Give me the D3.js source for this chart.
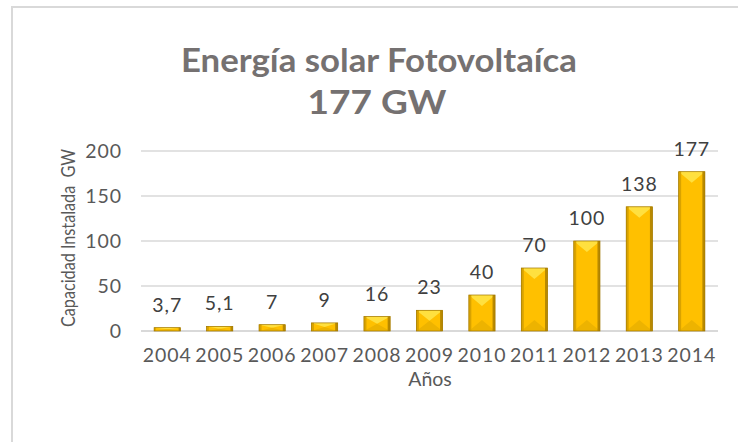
<!DOCTYPE html>
<html><head><meta charset="utf-8">
<script src="https://cdn.jsdelivr.net/npm/d3@7"></script>
<style>body{margin:0;background:#fff}svg{display:block}text{font-family:Lato,"Open Sans",sans-serif}</style>
</head><body><svg id="c" width="738" height="442"></svg>
<script>
const years = ["2004","2005","2006","2007","2008","2009","2010","2011","2012","2013","2014"];
const capacity = [3.7,5.1,7,9,16,23,40,70,100,138,177];
const valueLabels = ["3,7","5,1","7","9","16","23","40","70","100","138","177"];
const yTicks = [0,50,100,150,200];
const titleLines = ["Energía solar Fotovoltaíca","177 GW"];
const titleWidths = [396,139];

const svg = d3.select("#c");
svg.append("rect").attr("x",12).attr("y",7).attr("width",760).attr("height",480)
  .attr("fill","#fff").attr("stroke","#d9d9d9").attr("stroke-width",2);

const m = {left:141,right:718,top:151,bottom:331};
const x = d3.scaleBand().domain(years).range([m.left,m.right]).paddingInner(0.5).paddingOuter(0.25);
const y = d3.scaleLinear().domain([0,200]).range([m.bottom,m.top]);

const FS = 19.5, LS = "0.9px";

svg.append("g").selectAll("line").data(yTicks).join("line")
  .attr("x1",m.left).attr("x2",m.right).attr("y1",d=>y(d)).attr("y2",d=>y(d))
  .attr("stroke","#d9d9d9").attr("stroke-width",d=>d===0?2:1.3);

svg.append("g").selectAll("text").data(yTicks).join("text")
  .attr("x",122).attr("y",d=>y(d)).attr("dy","0.36em").attr("text-anchor","end")
  .attr("font-size",FS).attr("letter-spacing",LS).attr("fill","#595959").text(d=>d);

const g = svg.append("g");
years.forEach((yr,i)=>{
  const x0 = x(yr), w = x.bandwidth(), x1 = x0+w;
  const yt = y(capacity[i]), yb = y(0);
  const h = yb-yt;
  const b = Math.min(w*0.45, h/2, 11);
  const e = Math.min(2.5, h/2);
  const bg = g.append("g");
  bg.append("rect").attr("x",x0).attr("y",yt).attr("width",w).attr("height",h).attr("fill","#FFC000");
  bg.append("path").attr("d",`M${x0},${yt}L${x1},${yt}L${x0+w/2},${yt+b}Z`).attr("fill","#FFE03F");
  bg.append("path").attr("d",`M${x0},${yb}L${x1},${yb}L${x0+w/2},${yb-b}Z`).attr("fill","#EDB300");
  bg.append("rect").attr("x",x0).attr("y",yt).attr("width",e).attr("height",h).attr("fill","#D9A300");
  bg.append("rect").attr("x",x1-e).attr("y",yt).attr("width",e).attr("height",h).attr("fill","#B88900");
  bg.append("rect").attr("x",x0).attr("y",yt).attr("width",w).attr("height",h)
    .attr("fill","none").attr("stroke","#9E7600").attr("stroke-width",0.7);
});

svg.append("g").selectAll("text").data(years).join("text")
  .attr("x",d=>x(d)+x.bandwidth()/2).attr("y",(d,i)=>y(capacity[i])-16)
  .attr("text-anchor","middle").attr("font-size",FS).attr("letter-spacing",LS).attr("fill","#404040")
  .text((d,i)=>valueLabels[i]);

svg.append("g").selectAll("text").data(years).join("text")
  .attr("x",d=>x(d)+x.bandwidth()/2).attr("y",355).attr("dy","0.36em")
  .attr("text-anchor","middle").attr("font-size",FS).attr("letter-spacing",LS).attr("fill","#595959").text(d=>d);

svg.append("text").attr("x",430).attr("y",379).attr("dy","0.36em").attr("text-anchor","middle")
  .attr("font-size",FS).attr("fill","#595959").text("Años");
svg.append("text").attr("transform","translate(68,238) rotate(-90)").attr("dy","0.36em")
  .attr("text-anchor","middle").attr("font-size",20).attr("fill","#595959")
  .attr("textLength",178).attr("lengthAdjust","spacingAndGlyphs")
  .style("white-space","pre").text("Capacidad Instalada  GW");

svg.append("g").selectAll("text").data(titleLines).join("text")
  .attr("x",(d,i)=>i===0?379:377).attr("y",(d,i)=>72+i*42).attr("text-anchor","middle")
  .attr("font-size",32).attr("font-weight","bold").attr("fill","#757171")
  .attr("textLength",(d,i)=>titleWidths[i]).attr("lengthAdjust","spacingAndGlyphs").text(d=>d);
</script></body></html>
